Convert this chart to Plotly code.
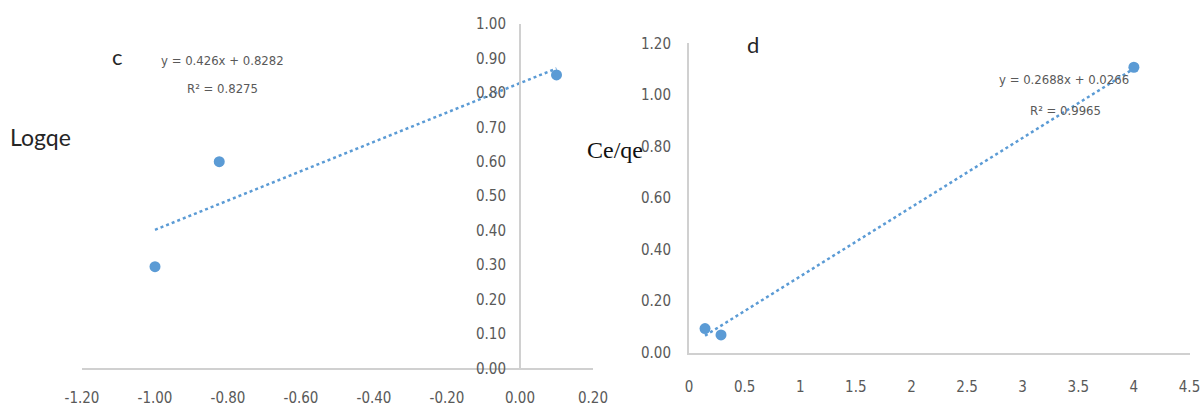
import plotly.graph_objects as go

# ---------------- data ----------------
c_x = [-1.00, -0.824, 0.10]
c_y = [0.295, 0.60, 0.852]
c_slope = 0.426
c_intercept = 0.8282
c_eq = "y = 0.426x + 0.8282"
c_r2 = "R² = 0.8275"

d_x = [0.144, 0.288, 4.0]
d_y = [0.093, 0.068, 1.107]
d_slope = 0.2688
d_intercept = 0.0266
d_eq = "y = 0.2688x + 0.0266"
d_r2 = "R² = 0.9965"

c_xticks = [-1.2, -1.0, -0.8, -0.6, -0.4, -0.2, 0.0, 0.2]
c_xtext = ["-1.20", "-1.00", "-0.80", "-0.60", "-0.40", "-0.20", "0.00", "0.20"]
c_yticks = [0.0, 0.1, 0.2, 0.3, 0.4, 0.5, 0.6, 0.7, 0.8, 0.9, 1.0]
c_ytext = ["0.00", "0.10", "0.20", "0.30", "0.40", "0.50", "0.60", "0.70", "0.80", "0.90", "1.00"]

d_xticks = [0, 0.5, 1, 1.5, 2, 2.5, 3, 3.5, 4, 4.5]
d_xtext = ["0", "0.5", "1", "1.5", "2", "2.5", "3", "3.5", "4", "4.5"]
d_yticks = [0.0, 0.2, 0.4, 0.6, 0.8, 1.0, 1.2]
d_ytext = ["0.00", "0.20", "0.40", "0.60", "0.80", "1.00", "1.20"]

# ---------------- styling ----------------
W, H = 1201, 407
BLUE = "#5B9BD5"
AX = "#D0D0D0"
TICKC = "#595959"
NARROW = "Liberation Sans Narrow, DejaVu Sans Condensed, Arial Narrow, sans-serif"


def px(x):
    return x / W


def py(y):
    return 1 - y / H


fig = go.Figure()

# trendlines computed from the fitted equations over the data range
c_tx = [min(c_x), max(c_x)]
c_ty = [c_slope * v + c_intercept for v in c_tx]
d_tx = [min(d_x), max(d_x)]
d_ty = [d_slope * v + d_intercept for v in d_tx]

fig.add_trace(go.Scatter(x=c_tx, y=c_ty, mode="lines",
                         line=dict(color=BLUE, width=2.5, dash="dot"),
                         xaxis="x", yaxis="y", showlegend=False, hoverinfo="skip"))
fig.add_trace(go.Scatter(x=c_x, y=c_y, mode="markers",
                         marker=dict(color=BLUE, size=11),
                         xaxis="x", yaxis="y", showlegend=False))
fig.add_trace(go.Scatter(x=d_tx, y=d_ty, mode="lines",
                         line=dict(color=BLUE, width=2.5, dash="dot"),
                         xaxis="x2", yaxis="y2", showlegend=False, hoverinfo="skip"))
fig.add_trace(go.Scatter(x=d_x, y=d_y, mode="markers",
                         marker=dict(color=BLUE, size=11),
                         xaxis="x2", yaxis="y2", showlegend=False))

tickfont = dict(family=NARROW, size=15, color=TICKC)

fig.update_layout(
    width=W, height=H,
    margin=dict(l=0, r=0, t=0, b=0, autoexpand=False),
    paper_bgcolor="white", plot_bgcolor="white",
    showlegend=False,
    xaxis=dict(domain=[px(82), px(593)], range=[-1.2, 0.2], anchor="y", automargin=False,
               showgrid=False, zeroline=False, showline=True, linecolor=AX, linewidth=2,
               tickmode="array", tickvals=c_xticks, ticktext=c_xtext,
               ticks="", tickfont=tickfont, ticklabelstandoff=15),
    yaxis=dict(domain=[py(368.3), py(24)], range=[0, 1.0], anchor="free", automargin=False,
               position=px(520),
               showgrid=False, zeroline=False, showline=True, linecolor=AX, linewidth=2,
               tickmode="array", tickvals=c_yticks, ticktext=c_ytext,
               ticks="", tickfont=tickfont, ticklabelstandoff=10),
    xaxis2=dict(domain=[px(689), px(1189.5)], range=[0, 4.5], anchor="y2", automargin=False,
                showgrid=False, zeroline=False, showline=True, linecolor=AX, linewidth=2,
                tickmode="array", tickvals=d_xticks, ticktext=d_xtext,
                ticks="", tickfont=tickfont, ticklabelstandoff=19),
    yaxis2=dict(domain=[py(352.5), py(43.3)], range=[0, 1.2], anchor="x2", automargin=False,
                showgrid=False, zeroline=False, showline=True, linecolor=AX, linewidth=2,
                tickmode="array", tickvals=d_yticks, ticktext=d_ytext,
                ticks="", tickfont=tickfont, ticklabelstandoff=13),
)

ann = []
letterfont = dict(family="Lato, Liberation Sans, sans-serif", size=22, color="#262626")
ann.append(dict(text="c", x=px(117), y=py(56), xref="paper", yref="paper",
                showarrow=False, xanchor="center", yanchor="middle", font=letterfont))
ann.append(dict(text="d", x=px(753), y=py(44), xref="paper", yref="paper",
                showarrow=False, xanchor="center", yanchor="middle", font=letterfont))
ann.append(dict(text="Logqe", x=px(8), y=py(137), xref="paper", yref="paper",
                showarrow=False, xanchor="left", yanchor="middle",
                font=dict(family="Lato, Liberation Sans, sans-serif", size=23, color="#262626")))
ann.append(dict(text="Ce/qe", x=px(645), y=py(150), xref="paper", yref="paper",
                showarrow=False, xanchor="right", yanchor="middle",
                font=dict(family="Liberation Serif, serif", size=24, color="#111111")))
eqfont = dict(family=NARROW, size=13, color=TICKC)
ann.append(dict(text=c_eq, x=px(222), y=py(60), xref="paper", yref="paper",
                showarrow=False, xanchor="center", yanchor="middle", font=eqfont))
ann.append(dict(text=c_r2, x=px(222), y=py(89), xref="paper", yref="paper",
                showarrow=False, xanchor="center", yanchor="middle", font=eqfont))
ann.append(dict(text=d_eq, x=px(1064), y=py(80), xref="paper", yref="paper",
                showarrow=False, xanchor="center", yanchor="middle", font=eqfont))
ann.append(dict(text=d_r2, x=px(1065), y=py(110), xref="paper", yref="paper",
                showarrow=False, xanchor="center", yanchor="middle", font=eqfont))
fig.update_layout(annotations=ann)

fig.write_html("out.html", config={"displayModeBar": False},
               post_script="document.body.style.margin='0';document.body.style.padding='0';")
